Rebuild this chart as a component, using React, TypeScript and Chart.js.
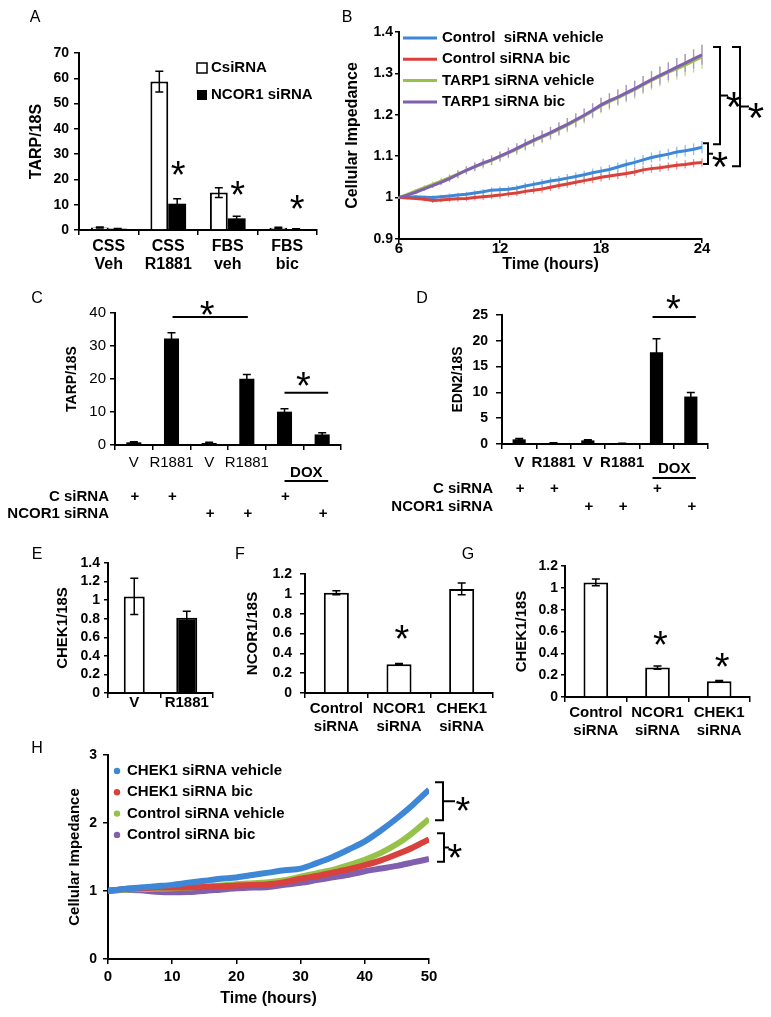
import React, { useEffect, useRef } from 'react';
import { Chart, registerables } from 'chart.js';

Chart.register(...registerables);

const FONT = '"Liberation Sans", Arial, Helvetica, sans-serif';
const BLACK = '#000000';

// ---------- Panel A ----------
const aCategories = [['CSS', 'Veh'], ['CSS', 'R1881'], ['FBS', 'veh'], ['FBS', 'bic']];
const aSeriesNames = ['CsiRNA', 'NCOR1 siRNA'];
const aCsiRNA = [1.0, 58.7, 14.8, 0.9];
const aCsiRNAErr = [0.2, 4.1, 1.9, 0.2];
const aNCOR1 = [0.5, 10.4, 4.6, 0.4];
const aNCOR1Err = [0.1, 2.0, 0.8, 0.1];

// ---------- Panel B ----------
const bTimes = [6, 6.5, 7, 7.5, 8, 8.5, 9, 9.5, 10, 10.5, 11, 11.5, 12, 12.5, 13, 13.5, 14, 14.5, 15, 15.5, 16, 16.5, 17, 17.5, 18, 18.5, 19, 19.5, 20, 20.5, 21, 21.5, 22, 22.5, 23, 23.5, 24];
const bSeriesNames = ['Control  siRNA vehicle', 'Control siRNA bic', 'TARP1 siRNA vehicle', 'TARP1 siRNA bic'];
const bCtrlVeh = [1.000, 1.001, 1.002, 1.001, 1.000, 1.002, 1.004, 1.006, 1.008, 1.011, 1.014, 1.018, 1.019, 1.020, 1.023, 1.028, 1.032, 1.036, 1.040, 1.043, 1.047, 1.051, 1.055, 1.060, 1.064, 1.068, 1.074, 1.080, 1.085, 1.091, 1.097, 1.101, 1.105, 1.110, 1.113, 1.117, 1.122];
const bCtrlBic = [1.000, 0.999, 0.998, 0.996, 0.993, 0.994, 0.996, 0.997, 0.998, 1.000, 1.002, 1.004, 1.006, 1.009, 1.011, 1.015, 1.018, 1.021, 1.025, 1.029, 1.033, 1.037, 1.041, 1.045, 1.049, 1.052, 1.055, 1.058, 1.062, 1.067, 1.070, 1.072, 1.075, 1.078, 1.080, 1.083, 1.085];
const bTarpVeh = [1.000, 1.008, 1.016, 1.024, 1.032, 1.040, 1.048, 1.057, 1.066, 1.074, 1.082, 1.090, 1.099, 1.108, 1.117, 1.127, 1.137, 1.146, 1.155, 1.165, 1.175, 1.186, 1.197, 1.209, 1.222, 1.232, 1.241, 1.251, 1.261, 1.272, 1.283, 1.293, 1.303, 1.311, 1.320, 1.330, 1.340];
const bTarpBic = [1.000, 1.006, 1.013, 1.021, 1.029, 1.037, 1.046, 1.056, 1.066, 1.075, 1.084, 1.091, 1.100, 1.109, 1.119, 1.129, 1.139, 1.148, 1.157, 1.167, 1.177, 1.188, 1.199, 1.211, 1.224, 1.234, 1.243, 1.253, 1.263, 1.274, 1.285, 1.295, 1.305, 1.315, 1.325, 1.335, 1.345];
const bCtrlVehErr = [0.002, 0.003, 0.004, 0.004, 0.005, 0.005, 0.006, 0.006, 0.006, 0.007, 0.007, 0.007, 0.008, 0.008, 0.008, 0.008, 0.009, 0.009, 0.009, 0.009, 0.010, 0.010, 0.010, 0.010, 0.011, 0.011, 0.011, 0.012, 0.012, 0.012, 0.012, 0.013, 0.013, 0.013, 0.014, 0.014, 0.015];
const bCtrlBicErr = [0.002, 0.003, 0.004, 0.005, 0.006, 0.006, 0.007, 0.007, 0.007, 0.007, 0.008, 0.008, 0.008, 0.008, 0.008, 0.008, 0.009, 0.009, 0.009, 0.009, 0.009, 0.009, 0.009, 0.010, 0.010, 0.010, 0.010, 0.010, 0.010, 0.010, 0.010, 0.010, 0.010, 0.010, 0.010, 0.010, 0.010];
const bTarpVehErr = [0.002, 0.004, 0.005, 0.006, 0.007, 0.008, 0.009, 0.010, 0.011, 0.011, 0.012, 0.012, 0.013, 0.013, 0.014, 0.014, 0.015, 0.015, 0.016, 0.016, 0.017, 0.017, 0.018, 0.018, 0.019, 0.020, 0.020, 0.021, 0.022, 0.022, 0.023, 0.024, 0.025, 0.026, 0.027, 0.028, 0.029];
const bTarpBicErr = [0.002, 0.003, 0.004, 0.005, 0.006, 0.007, 0.008, 0.009, 0.009, 0.010, 0.010, 0.011, 0.011, 0.012, 0.012, 0.013, 0.013, 0.014, 0.014, 0.015, 0.015, 0.016, 0.016, 0.017, 0.017, 0.018, 0.018, 0.019, 0.019, 0.020, 0.020, 0.021, 0.021, 0.022, 0.022, 0.023, 0.024];
const bColors = ['#3E87D6', '#D8413C', '#97C24A', '#8060AE'];
const bErrColors = ['#8DBDEB', '#EE8E89', '#C2DB8C', '#AE94D2'];

// ---------- Panel C ----------
const cCategories = ['V', 'R1881', 'V', 'R1881', '', ''];
const cValues = [0.8, 32.3, 0.6, 20.1, 10.1, 3.2];
const cErr = [0.2, 1.7, 0.2, 1.3, 0.9, 0.5];
const cCsiRNARow = ['+', '+', '', '', '+', ''];
const cNCOR1Row = ['', '', '+', '+', '', '+'];

// ---------- Panel D ----------
const dCategories = ['V', 'R1881', 'V', 'R1881', '', ''];
const dValues = [0.9, 0.2, 0.7, 0.1, 17.8, 9.2];
const dErr = [0.15, 0.05, 0.12, 0.04, 2.6, 0.8];
const dCsiRNARow = ['+', '+', '', '', '+', ''];
const dNCOR1Row = ['', '', '+', '+', '', '+'];

// ---------- Panel E ----------
const eCategories = ['V', 'R1881'];
const eValues = [1.04, 0.81];
const eErr = [0.195, 0.07];

// ---------- Panel F ----------
const fCategories = [['Control', 'siRNA'], ['NCOR1', 'siRNA'], ['CHEK1', 'siRNA']];
const fValues = [1.01, 0.29, 1.05];
const fErr = [0.02, 0.008, 0.06];

// ---------- Panel G ----------
const gCategories = [['Control', 'siRNA'], ['NCOR1', 'siRNA'], ['CHEK1', 'siRNA']];
const gValues = [1.05, 0.27, 0.145];
const gErr = [0.03, 0.015, 0.006];

// ---------- Panel H ----------
const hTimes = [0, 2.5, 5, 7.5, 10, 12.5, 15, 17.5, 20, 22.5, 25, 27.5, 30, 32.5, 35, 37.5, 40, 42.5, 45, 47.5, 50];
const hSeriesNames = ['CHEK1 siRNA vehicle', 'CHEK1 siRNA bic', 'Control siRNA vehicle', 'Control siRNA bic'];
const hChekVeh = [1.00, 1.03, 1.05, 1.07, 1.09, 1.12, 1.15, 1.18, 1.20, 1.235, 1.27, 1.305, 1.33, 1.41, 1.50, 1.61, 1.73, 1.89, 2.07, 2.27, 2.49];
const hChekBic = [1.00, 1.03, 1.04, 1.05, 1.05, 1.055, 1.06, 1.07, 1.08, 1.09, 1.10, 1.13, 1.18, 1.22, 1.27, 1.32, 1.38, 1.45, 1.54, 1.64, 1.76];
const hCtrlVeh = [1.00, 1.02, 1.03, 1.035, 1.04, 1.05, 1.07, 1.08, 1.10, 1.115, 1.13, 1.16, 1.21, 1.26, 1.31, 1.38, 1.46, 1.56, 1.69, 1.86, 2.06];
const hCtrlBic = [1.00, 1.02, 1.01, 0.99, 0.98, 0.985, 1.00, 1.02, 1.04, 1.05, 1.06, 1.09, 1.12, 1.16, 1.20, 1.24, 1.29, 1.33, 1.37, 1.42, 1.47];
const hColors = ['#3E87D6', '#D8413C', '#97C24A', '#8060AE'];

// ---------- helpers ----------
const font = (size: number, bold = true, lineHeight = 1.2) => ({ family: FONT, size, weight: bold ? 'bold' : 'normal', lineHeight });
const fmt = (v: any) => String(Number(Number(v).toFixed(3)));

function yAxis(o: any) {
  return {
    type: 'linear', position: 'left', min: o.min, max: o.max,
    ticks: { stepSize: o.step, color: BLACK, font: font(o.tickSize, o.tickBold !== false), padding: o.tickPad, autoSkip: false, callback: fmt },
    grid: { display: true, drawOnChartArea: false, drawTicks: o.tickLen > 0, tickLength: o.tickLen, color: BLACK, lineWidth: 1.5 },
    border: { display: true, color: BLACK, width: 2 },
    title: { display: true, text: o.title, color: BLACK, font: font(o.titleSize), padding: { top: o.titleX - o.titleSize * 0.6, bottom: 0 } },
    afterFit: (s: any) => { s.width = o.width; },
  };
}

function xCategory(o: any) {
  return {
    type: 'category', position: 'bottom',
    ticks: { color: BLACK, font: font(o.tickSize, o.tickBold !== false, o.lineHeight || 1.2), padding: o.tickPad, maxRotation: 0, minRotation: 0, autoSkip: false },
    grid: { display: true, drawOnChartArea: false, drawTicks: true, tickLength: o.tickLen, color: BLACK, lineWidth: 1.5, offset: true },
    border: { display: true, color: BLACK, width: 2 },
    afterFit: (s: any) => { s.height = o.height; },
  };
}

function xLinear(o: any) {
  return {
    type: 'linear', position: 'bottom', min: o.min, max: o.max,
    ticks: { stepSize: o.step, color: BLACK, font: font(o.tickSize), padding: o.tickPad, maxRotation: 0, autoSkip: false },
    grid: { display: true, drawOnChartArea: false, drawTicks: true, tickLength: o.tickLen, color: BLACK, lineWidth: 1.5 },
    border: { display: true, color: BLACK, width: 2 },
    title: { display: true, text: o.title, color: BLACK, font: font(o.titleSize), padding: { top: 0, bottom: o.titleFromBottom - o.titleSize * 0.6 } },
    afterFit: (s: any) => { s.height = o.height; },
  };
}

function baseOptions(padTop: number, padRight: number, scales: any) {
  return {
    responsive: false, maintainAspectRatio: false, animation: false, devicePixelRatio: 1, events: [],
    layout: { padding: { top: padTop, right: padRight, bottom: 0, left: 0 } },
    plugins: { legend: { display: false }, tooltip: { enabled: false }, title: { display: false } },
    scales,
  };
}

function errorBars(errs: any[], o: any) {
  const draw = (chart: any) => {
    const ctx = chart.ctx;
    const ys = chart.scales.y;
    ctx.save();
    chart.data.datasets.forEach((ds: any, di: number) => {
      const e = errs[di];
      if (!e) return;
      const meta = chart.getDatasetMeta(di);
      ctx.strokeStyle = o.colors ? o.colors[di] : BLACK;
      ctx.lineWidth = o.width;
      meta.data.forEach((el: any, j: number) => {
        const raw = ds.data[j];
        const v = typeof raw === 'number' ? raw : raw.y;
        const yT = ys.getPixelForValue(v + e[j]);
        const yB = ys.getPixelForValue(v - e[j]);
        const x = el.x;
        ctx.beginPath();
        ctx.moveTo(x, yT); ctx.lineTo(x, yB);
        if (o.cap > 0) {
          ctx.moveTo(x - o.cap, yT); ctx.lineTo(x + o.cap, yT);
          ctx.moveTo(x - o.cap, yB); ctx.lineTo(x + o.cap, yB);
        }
        ctx.stroke();
      });
    });
    ctx.restore();
  };
  return o.behind ? { id: 'errorBars', beforeDatasetsDraw: draw } : { id: 'errorBars', afterDatasetsDraw: draw };
}

function drawText(ctx: any, s: string, x: number, y: number, size: number, bold = true, align = 'center') {
  ctx.save();
  ctx.font = `${bold ? 'bold ' : ''}${size}px ${FONT}`;
  ctx.fillStyle = BLACK;
  ctx.textAlign = align;
  ctx.textBaseline = 'middle';
  ctx.fillText(s, x, y);
  ctx.restore();
}

function drawStar(ctx: any, x: number, y: number, size: number) {
  ctx.save();
  ctx.font = `${size}px ${FONT}`;
  ctx.fillStyle = BLACK;
  ctx.textAlign = 'center';
  ctx.textBaseline = 'alphabetic';
  ctx.fillText('*', x, y + 0.58 * size);
  ctx.restore();
}

function drawPath(ctx: any, pts: number[][], width = 2, color = BLACK) {
  ctx.save();
  ctx.strokeStyle = color;
  ctx.lineWidth = width;
  ctx.beginPath();
  pts.forEach((p, i) => (i === 0 ? ctx.moveTo(p[0], p[1]) : ctx.lineTo(p[0], p[1])));
  ctx.stroke();
  ctx.restore();
}

function drawBracket(ctx: any, x: number, y1: number, y2: number, arm: number, tick: number) {
  drawPath(ctx, [[x - arm, y1], [x, y1], [x, y2], [x - arm, y2]], 2);
  const ym = (y1 + y2) / 2;
  drawPath(ctx, [[x, ym], [x + tick, ym]], 2);
  return ym;
}

const STAR = 38;

// ---------- chart configs ----------
function configA() {
  return {
    type: 'bar',
    data: {
      labels: aCategories,
      datasets: [
        { label: aSeriesNames[0], data: aCsiRNA, backgroundColor: '#ffffff', borderColor: BLACK, borderWidth: 2, categoryPercentage: 0.6, barPercentage: 1 },
        { label: aSeriesNames[1], data: aNCOR1, backgroundColor: BLACK, borderColor: BLACK, borderWidth: 0, categoryPercentage: 0.6, barPercentage: 1 },
      ],
    },
    options: baseOptions(53, 18, {
      x: xCategory({ height: 45, tickSize: 16, lineHeight: 1.1, tickLen: 5, tickPad: 3 }),
      y: yAxis({ min: 0, max: 70, step: 10, width: 79, title: 'TARP/18S', titleSize: 16, titleX: 37, tickSize: 14, tickLen: 5, tickPad: 5 }),
    }),
    plugins: [
      errorBars([aCsiRNAErr, aNCOR1Err], { cap: 4, width: 1.5 }),
      {
        id: 'annotA',
        afterDraw(chart: any) {
          const ctx = chart.ctx;
          const { left, top } = chart.chartArea;
          chart.data.datasets.forEach((ds: any, i: number) => {
            const y = top + 15 + i * 27;
            const sx = left + 118;
            ctx.save();
            if (i === 0) { ctx.fillStyle = '#fff'; ctx.fillRect(sx, y - 5, 10, 10); ctx.strokeStyle = BLACK; ctx.lineWidth = 1.5; ctx.strokeRect(sx, y - 5, 10, 10); }
            else { ctx.fillStyle = BLACK; ctx.fillRect(sx, y - 5, 10, 10); }
            ctx.restore();
            drawText(ctx, ds.label, left + 132, y, 15, true, 'left');
          });
          const ys = chart.scales.y;
          const meta = chart.getDatasetMeta(1);
          [[1, 25.5], [2, 17.6], [3, 11.7]].forEach(([c, v]) => drawStar(ctx, meta.data[c].x + 1, ys.getPixelForValue(v), STAR));
        },
      },
    ],
  };
}

function configB() {
  const series = [bCtrlVeh, bCtrlBic, bTarpVeh, bTarpBic];
  const errs = [bCtrlVehErr, bCtrlBicErr, bTarpVehErr, bTarpBicErr];
  return {
    type: 'line',
    data: {
      datasets: series.map((s, i) => ({
        label: bSeriesNames[i],
        data: s.map((y, j) => ({ x: bTimes[j], y })),
        borderColor: bColors[i], backgroundColor: bColors[i], borderWidth: 3, pointRadius: 0, tension: 0,
        order: 4 - i,
      })),
    },
    options: baseOptions(32, 69, {
      x: xLinear({ min: 6, max: 24, step: 6, height: 36, tickSize: 15, tickLen: 4, tickPad: -3, title: 'Time (hours)', titleSize: 16, titleFromBottom: 10 }),
      y: yAxis({ min: 0.9, max: 1.4, step: 0.1, width: 59, title: 'Cellular Impedance', titleSize: 16, titleX: 13, tickSize: 14, tickLen: 4, tickPad: 2 }),
    }),
    plugins: [
      errorBars(errs, { cap: 0, width: 1.3, colors: bErrColors, behind: true }),
      {
        id: 'annotB',
        afterDraw(chart: any) {
          const ctx = chart.ctx;
          const { left, top, right } = chart.chartArea;
          const ys = chart.scales.y;
          chart.data.datasets.forEach((ds: any, i: number) => {
            const y = top + 6 + i * 21.3;
            drawPath(ctx, [[left + 4, y], [left + 38, y]], 3, ds.borderColor);
            drawText(ctx, ds.label, left + 43, y, 15, true, 'left');
          });
          let ym = drawBracket(ctx, right + 18, ys.getPixelForValue(1.364), ys.getPixelForValue(1.129), 7, 8);
          drawStar(ctx, right + 32, ym + 1, 42);
          ym = drawBracket(ctx, right + 6, ys.getPixelForValue(1.131), ys.getPixelForValue(1.081), 5, 5);
          drawStar(ctx, right + 18, ym + 3, 42);
          ym = drawBracket(ctx, right + 38, ys.getPixelForValue(1.364), ys.getPixelForValue(1.076), 8, 9);
          drawStar(ctx, right + 54, ym + 1, 42);
        },
      },
    ],
  };
}

function rowsPlugin(id: string, o: any) {
  return {
    id,
    afterDraw(chart: any) {
      const ctx = chart.ctx;
      const { left, bottom } = chart.chartArea;
      const xs = chart.scales.x;
      const ys = chart.scales.y;
      o.sig.forEach((s: any) => {
        const x1 = xs.getPixelForValue(s.from) + s.dx1;
        const x2 = xs.getPixelForValue(s.to) + s.dx2;
        const y = ys.getPixelForValue(s.y);
        drawPath(ctx, [[x1, y], [x2, y]], 2);
        drawStar(ctx, xs.getPixelForValue(s.starAt) + (s.starDx || 0), ys.getPixelForValue(s.starY), STAR);
      });
      const dx1 = xs.getPixelForValue(4) + o.dox.dx1;
      const dx2 = xs.getPixelForValue(5) + o.dox.dx2;
      drawText(ctx, 'DOX', (dx1 + dx2) / 2, bottom + o.dox.textDy, 15, true);
      drawPath(ctx, [[dx1, bottom + o.dox.lineDy], [dx2, bottom + o.dox.lineDy]], 2);
      drawText(ctx, 'C siRNA', left - o.rowGap, bottom + o.row1Dy, 15, true, 'right');
      drawText(ctx, 'NCOR1 siRNA', left - o.rowGap, bottom + o.row2Dy, 15, true, 'right');
      o.row1.forEach((m: string, i: number) => { if (m) drawText(ctx, m, xs.getPixelForValue(i) + 1, bottom + o.row1Dy, 15, true); });
      o.row2.forEach((m: string, i: number) => { if (m) drawText(ctx, m, xs.getPixelForValue(i) + 1, bottom + o.row2Dy, 15, true); });
    },
  };
}

function configC() {
  return {
    type: 'bar',
    data: { labels: cCategories, datasets: [{ data: cValues, backgroundColor: BLACK, borderWidth: 0, categoryPercentage: 0.8, barPercentage: 0.5 }] },
    options: baseOptions(33, 44, {
      x: xCategory({ height: 85, tickSize: 15, tickBold: false, tickLen: 5, tickPad: 4 }),
      y: yAxis({ min: 0, max: 40, step: 10, width: 115, title: 'TARP/18S', titleSize: 14, titleX: 72, tickSize: 15, tickBold: false, tickLen: 5, tickPad: 4 }),
    }),
    plugins: [
      errorBars([cErr], { cap: 4, width: 1.5 }),
      rowsPlugin('annotC', {
        sig: [
          { from: 1, to: 3, dx1: 1, dx2: 1, y: 38.8, starAt: 2, starDx: -2, starY: 42.2 },
          { from: 4, to: 5, dx1: 0, dx2: 6, y: 15.8, starAt: 4, starDx: 19, starY: 20.6 },
        ],
        dox: { dx1: 0, dx2: 6, textDy: 28, lineDy: 36 },
        rowGap: 6, row1Dy: 52, row2Dy: 69,
        row1: cCsiRNARow, row2: cNCOR1Row,
      }),
    ],
  };
}

function configD() {
  return {
    type: 'bar',
    data: { labels: dCategories, datasets: [{ data: dValues, backgroundColor: BLACK, borderWidth: 0, categoryPercentage: 0.8, barPercentage: 0.48 }] },
    options: baseOptions(35, 63, {
      x: xCategory({ height: 86, tickSize: 15, tickLen: 5, tickPad: 5 }),
      y: yAxis({ min: 0, max: 25, step: 5, width: 117, title: 'EDN2/18S', titleSize: 14, titleX: 73, tickSize: 14, tickLen: 6, tickPad: 8 }),
    }),
    plugins: [
      errorBars([dErr], { cap: 4, width: 1.5 }),
      rowsPlugin('annotD', {
        sig: [{ from: 4, to: 5, dx1: -4, dx2: 5, y: 24.6, starAt: 4, starDx: 17, starY: 28.0 }],
        dox: { dx1: -4, dx2: 5, textDy: 25, lineDy: 34 },
        rowGap: 9, row1Dy: 45, row2Dy: 63,
        row1: dCsiRNARow, row2: dNCOR1Row,
      }),
    ],
  };
}

function configE() {
  return {
    type: 'bar',
    data: { labels: eCategories, datasets: [{ data: eValues, backgroundColor: ['#ffffff', BLACK], borderColor: BLACK, borderWidth: 2, categoryPercentage: 0.8, barPercentage: 0.5 }] },
    options: baseOptions(18, 17, {
      x: xCategory({ height: 32, tickSize: 15, tickLen: 5, tickPad: -4 }),
      y: yAxis({ min: 0, max: 1.4, step: 0.2, width: 108, title: 'CHEK1/18S', titleSize: 15, titleX: 63, tickSize: 14, tickLen: 4, tickPad: 4 }),
    }),
    plugins: [errorBars([eErr], { cap: 4, width: 1.5 })],
  };
}

function starPlugin(id: string, stars: number[][]) {
  return {
    id,
    afterDraw(chart: any) {
      const xs = chart.scales.x;
      const ys = chart.scales.y;
      stars.forEach(([c, v]) => drawStar(chart.ctx, xs.getPixelForValue(c) + 3, ys.getPixelForValue(v), STAR));
    },
  };
}

function configF() {
  return {
    type: 'bar',
    data: { labels: fCategories, datasets: [{ data: fValues, backgroundColor: '#ffffff', borderColor: BLACK, borderWidth: 2, categoryPercentage: 0.8, barPercentage: 0.5 }] },
    options: baseOptions(29, 7, {
      x: xCategory({ height: 47, tickSize: 15, tickLen: 5, tickPad: 2 }),
      y: yAxis({ min: 0, max: 1.2, step: 0.2, width: 75, title: 'NCOR1/18S', titleSize: 15, titleX: 23, tickSize: 14, tickLen: 5, tickPad: 8 }),
    }),
    plugins: [errorBars([fErr], { cap: 4, width: 1.5 }), starPlugin('starsF', [[1, 0.64]])],
  };
}

function configG() {
  return {
    type: 'bar',
    data: { labels: gCategories, datasets: [{ data: gValues, backgroundColor: '#ffffff', borderColor: BLACK, borderWidth: 2, categoryPercentage: 0.8, barPercentage: 0.5 }] },
    options: baseOptions(21, 21, {
      x: xCategory({ height: 43, tickSize: 15, tickLen: 5, tickPad: 2 }),
      y: yAxis({ min: 0, max: 1.2, step: 0.2, width: 65, title: 'CHEK1/18S', titleSize: 15, titleX: 22, tickSize: 14, tickLen: 4, tickPad: 3 }),
    }),
    plugins: [errorBars([gErr], { cap: 4, width: 1.5 }), starPlugin('starsG', [[1, 0.56], [2, 0.36]])],
  };
}

function configH() {
  const series = [hChekVeh, hChekBic, hCtrlVeh, hCtrlBic];
  return {
    type: 'line',
    data: {
      datasets: series.map((s, i) => ({
        label: hSeriesNames[i],
        data: s.map((y, j) => ({ x: hTimes[j], y })),
        borderColor: hColors[i], backgroundColor: hColors[i], borderWidth: 6, pointRadius: 0, tension: 0.3,
      })),
    },
    options: baseOptions(15, 71, {
      x: xLinear({ min: 0, max: 50, step: 10, height: 58, tickSize: 15, tickLen: 5, tickPad: 4, title: 'Time (hours)', titleSize: 16, titleFromBottom: 18 }),
      y: yAxis({ min: 0, max: 3, step: 1, width: 108, title: 'Cellular Impedance', titleSize: 15, titleX: 75, tickSize: 14, tickLen: 5, tickPad: 6 }),
    }),
    plugins: [
      {
        id: 'annotH',
        afterDraw(chart: any) {
          const ctx = chart.ctx;
          const { left, top, right } = chart.chartArea;
          const ys = chart.scales.y;
          chart.data.datasets.forEach((ds: any, i: number) => {
            const y = top + 16 + i * 21.3;
            ctx.save();
            ctx.fillStyle = ds.borderColor;
            ctx.beginPath(); ctx.arc(left + 9, y, 3.2, 0, Math.PI * 2); ctx.fill();
            ctx.restore();
            drawText(ctx, ds.label, left + 19, y, 15, true, 'left');
          });
          let ym = drawBracket(ctx, right + 14, ys.getPixelForValue(2.6), ys.getPixelForValue(2.04), 8, 12);
          drawStar(ctx, right + 34, ym + 1, STAR);
          ym = drawBracket(ctx, right + 15, ys.getPixelForValue(1.85), ys.getPixelForValue(1.43), 7, 5);
          drawStar(ctx, right + 26, ym + 1, STAR);
        },
      },
    ],
  };
}

const specs = [
  { left: 0, top: 0, width: 335, height: 275, make: configA },
  { left: 340, top: 0, width: 431, height: 275, make: configB },
  { left: 0, top: 280, width: 385, height: 250, make: configC },
  { left: 385, top: 280, width: 386, height: 250, make: configD },
  { left: 0, top: 545, width: 230, height: 180, make: configE },
  { left: 230, top: 545, width: 270, height: 195, make: configF },
  { left: 500, top: 545, width: 271, height: 195, make: configG },
  { left: 0, top: 740, width: 500, height: 277, make: configH },
];

const letters = [
  ['A', 35, 17], ['B', 347, 17], ['C', 37, 298], ['D', 422, 298],
  ['E', 37, 554], ['F', 240, 554], ['G', 468, 554], ['H', 37, 748],
];

export default function App() {
  const refs = useRef<(HTMLCanvasElement | null)[]>([]);
  useEffect(() => {
    const charts = specs.map((s, i) => new Chart(refs.current[i] as HTMLCanvasElement, s.make() as any));
    return () => charts.forEach((c) => c.destroy());
  }, []);
  return (
    <div style={{ position: 'absolute', left: 0, top: 0, width: 771, height: 1017, background: '#ffffff', overflow: 'hidden' }}>
      {specs.map((s, i) => (
        <canvas
          key={i}
          ref={(el) => { refs.current[i] = el; }}
          width={s.width}
          height={s.height}
          style={{ position: 'absolute', left: s.left, top: s.top, width: s.width, height: s.height }}
        />
      ))}
      {letters.map(([t, x, y]) => (
        <div
          key={t as string}
          style={{ position: 'absolute', left: x as number, top: y as number, transform: 'translate(-50%, -50%)', fontFamily: FONT, fontSize: 16, lineHeight: 1, color: '#000' }}
        >
          {t}
        </div>
      ))}
    </div>
  );
}
